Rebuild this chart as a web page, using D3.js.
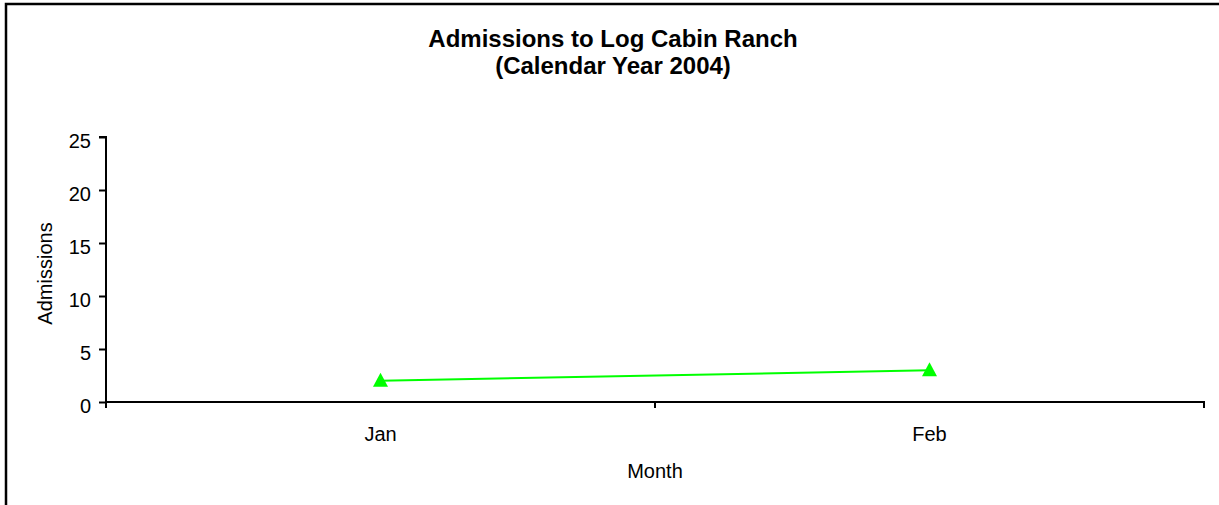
<!DOCTYPE html>
<html><head><meta charset="utf-8">
<script src="https://cdn.jsdelivr.net/npm/d3@7"></script>
<style>body{margin:0;background:#fff}svg{display:block}text{font-family:"Liberation Sans",Arial,sans-serif}</style>
</head><body>
<script>
const months = ["Jan", "Feb"];
const admissions = [2, 3];
const yTicks = [0, 5, 10, 15, 20, 25];
const titleLines = ["Admissions to Log Cabin Ranch", "(Calendar Year 2004)"];

const W = 1219, H = 505;
const FONT = "Liberation Sans, Arial, sans-serif";
const svg = d3.select("body").append("svg").attr("width", W).attr("height", H);
// outer border (left and top visible)
svg.append("rect").attr("x", 6).attr("y", 4).attr("width", W + 10).attr("height", H + 10)
  .attr("fill", "none").attr("stroke", "#000").attr("stroke-width", 2.5);

const m = {l: 106, r: 1204, t: 137, b: 402};
const x = d3.scaleBand().domain(months).range([m.l, m.r]);
const y = d3.scaleLinear().domain([0, 25]).range([m.b, m.t]);

svg.selectAll("text.title").data(titleLines).join("text").attr("class", "title")
  .attr("x", 613).attr("y", (d, i) => 46.5 + i * 27).attr("text-anchor", "middle")
  .attr("font-size", 24).attr("font-weight", "bold").text(d => d);

const ya = svg.append("g").attr("transform", `translate(${m.l},0)`)
  .call(d3.axisLeft(y).tickValues(yTicks).tickSize(7).tickPadding(8));
ya.select(".domain").attr("stroke-width", 2).attr("d", `M-7,${m.t}H0V${m.b}`);
ya.selectAll(".tick line").attr("stroke-width", 2);
ya.selectAll("text").attr("font-size", 20).attr("font-family", FONT).attr("fill", "#000").attr("dy", "0.5em");

const xa = svg.append("g").attr("transform", `translate(0,${m.b})`)
  .call(d3.axisBottom(x).tickSize(0).tickPadding(0));
xa.select(".domain").attr("stroke-width", 2).attr("d", `M${m.l},0H${m.r}V6`);
xa.selectAll("text").attr("font-size", 20).attr("font-family", FONT).attr("fill", "#000")
  .attr("y", 39).attr("dy", null);
// category boundary ticks
const bounds = months.map(d => x(d)).concat([m.r]);
svg.selectAll("line.xt").data(bounds).join("line").attr("class", "xt")
  .attr("x1", d => d).attr("x2", d => d).attr("y1", m.b).attr("y2", m.b + 6)
  .attr("stroke", "#000").attr("stroke-width", 2);

svg.append("text").attr("transform", `translate(52,${(m.t + m.b) / 2 + 4}) rotate(-90)`)
  .attr("text-anchor", "middle").attr("font-size", 20).text("Admissions");
svg.append("text").attr("x", (m.l + m.r) / 2).attr("y", 478)
  .attr("text-anchor", "middle").attr("font-size", 20).text("Month");

const pts = months.map((d, i) => [x(d) + x.bandwidth() / 2, y(admissions[i])]);
svg.append("path").attr("d", d3.line()(pts)).attr("fill", "none")
  .attr("stroke", "#00ff00").attr("stroke-width", 2);
svg.selectAll("path.mk").data(pts).join("path").attr("class", "mk")
  .attr("d", d => `M${d[0]},${d[1] - 8}L${d[0] + 7.5},${d[1] + 6}L${d[0] - 7.5},${d[1] + 6}Z`)
  .attr("fill", "#00ff00");
</script>
</body></html>
